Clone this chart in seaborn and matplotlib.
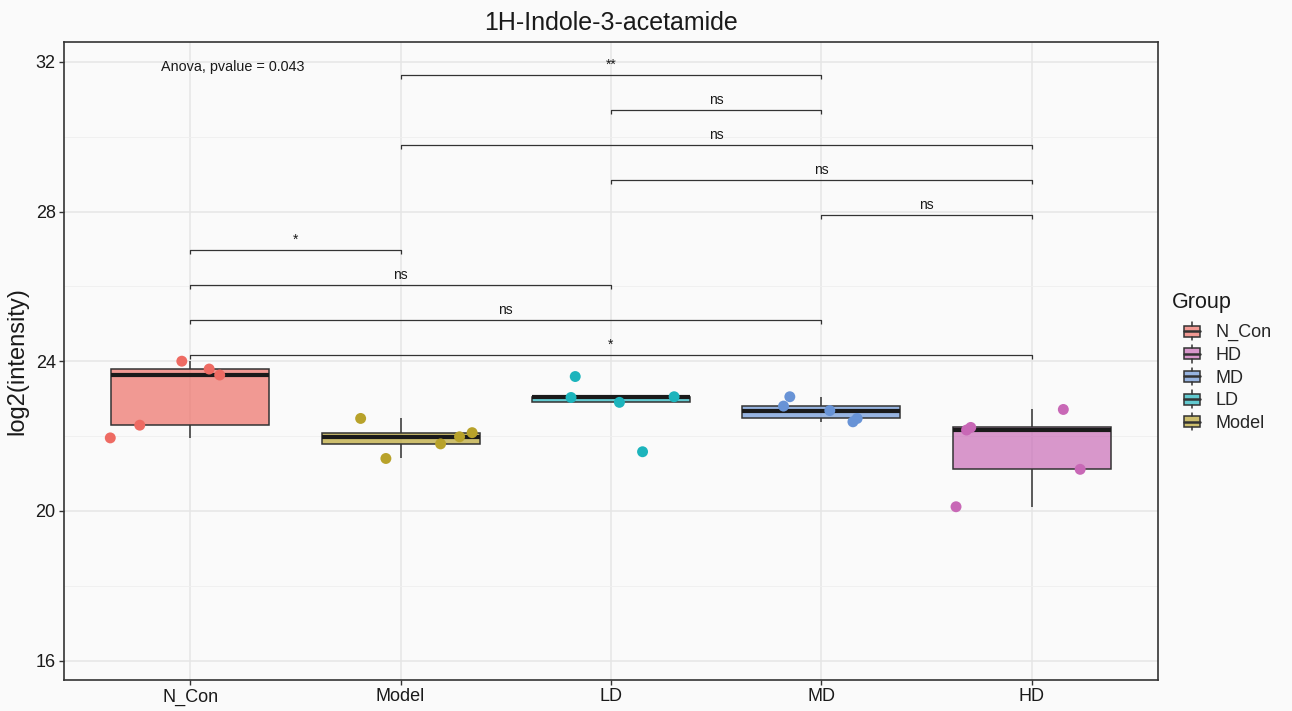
import matplotlib
matplotlib.use("Agg")
import numpy as np
import pandas as pd
import matplotlib.pyplot as plt
from matplotlib.patches import Patch, Rectangle
from matplotlib.lines import Line2D
from matplotlib.legend_handler import HandlerBase
from matplotlib.colors import to_rgba
from matplotlib.ticker import MultipleLocator
import seaborn as sns

# ---- data -------------------------------------------------------------
groups = ["N_Con", "Model", "LD", "MD", "HD"]
legend_order = ["N_Con", "HD", "MD", "LD", "Model"]
palette = {
    "N_Con": "#EE6B63",
    "Model": "#B8A22A",
    "LD": "#1CB4BC",
    "MD": "#6893D6",
    "HD": "#C868B6",
}

n_con = [21.95, 22.29, 24.00, 23.79, 23.63]
model = [22.47, 21.40, 21.79, 21.98, 22.09]
ld = [23.59, 23.03, 22.90, 23.05, 21.58]
md = [23.05, 22.80, 22.68, 22.38, 22.47]
hd = [20.11, 22.16, 22.23, 22.71, 21.11]

# horizontal jitter of each sample point
n_con_jit = [-0.38, -0.24, -0.04, 0.09, 0.14]
model_jit = [-0.19, -0.07, 0.19, 0.28, 0.34]
ld_jit = [-0.17, -0.19, 0.04, 0.30, 0.15]
md_jit = [-0.15, -0.18, 0.04, 0.15, 0.17]
hd_jit = [-0.36, -0.31, -0.29, 0.15, 0.23]

# pairwise comparisons, bottom bracket first
comparisons = [
    ("N_Con", "HD", "*"),
    ("N_Con", "MD", "ns"),
    ("N_Con", "LD", "ns"),
    ("N_Con", "Model", "*"),
    ("MD", "HD", "ns"),
    ("LD", "HD", "ns"),
    ("Model", "HD", "ns"),
    ("LD", "MD", "ns"),
    ("Model", "MD", "**"),
]
anova_label = "Anova, pvalue = 0.043"
title = "1H-Indole-3-acetamide"
ylabel = "log2(intensity)"
yticks = [16, 20, 24, 28, 32]

values = {"N_Con": n_con, "Model": model, "LD": ld, "MD": md, "HD": hd}
jitters = {"N_Con": n_con_jit, "Model": model_jit, "LD": ld_jit,
           "MD": md_jit, "HD": hd_jit}

rows = []
for g in groups:
    for v, j in zip(values[g], jitters[g]):
        pos = groups.index(g)
        rows.append({"Group": g, "pos": pos, "xj": pos + j, "value": v})
df = pd.DataFrame(rows)

# ---- style ------------------------------------------------------------
sns.set_theme(style="white")
plt.rcParams["font.family"] = ["Liberation Sans", "DejaVu Sans"]
bg = "#FAFAFA"
dark = "#333333"
txt = "#1A1A1A"
box_alpha = 0.68

fig = plt.figure(figsize=(12.92, 7.11), dpi=100, facecolor=bg)
ax = fig.add_axes([64 / 1292, 1 - 680 / 711, (1158 - 64) / 1292, (680 - 42) / 711])
ax.set_facecolor(bg)

# ---- boxes ------------------------------------------------------------
sns.boxplot(
    data=df, x="pos", y="value", hue="Group", palette=palette,
    hue_order=groups, native_scale=True, dodge=False, width=0.75,
    saturation=1, showfliers=False, whis=1.5, linewidth=1.1,
    linecolor=dark, legend=False, ax=ax,
    medianprops={"color": txt, "linewidth": 3.0},
    capprops={"visible": False},
    boxprops={"zorder": 2}, whiskerprops={"zorder": 2},
)
for patch in ax.patches:
    fc = patch.get_facecolor()
    patch.set_facecolor((fc[0], fc[1], fc[2], box_alpha))

# ---- jittered points --------------------------------------------------
sns.scatterplot(
    data=df, x="xj", y="value", hue="Group", palette=palette,
    hue_order=groups, s=62, edgecolor="none", linewidth=0,
    legend=False, ax=ax, zorder=4,
)

# ---- significance brackets --------------------------------------------
base, step, tip = 24.17, 0.934, 0.10
for i, (a, b, lab) in enumerate(comparisons):
    x1, x2 = groups.index(a), groups.index(b)
    y = base + i * step
    ax.plot([x1, x1, x2, x2], [y - tip, y, y, y - tip], color=dark,
            lw=0.9, solid_capstyle="butt", zorder=3)
    ax.text((x1 + x2) / 2, y + 0.08, lab, ha="center", va="bottom",
            fontsize=10, color=txt)

ax.text(0.2, 31.87, anova_label, ha="center", va="center", fontsize=10.4,
        color=txt)

# ---- axes -------------------------------------------------------------
ax.set_xlim(-0.6, 4.6)
ax.set_ylim(15.48, 32.53)
ax.set_xticks(range(len(groups)))
ax.set_xticklabels(groups)
ax.set_yticks(yticks)
ax.yaxis.set_minor_locator(MultipleLocator(2))
ax.grid(True, which="major", color="#E6E6E6", lw=1.1, zorder=0)
ax.grid(True, which="minor", axis="y", color="#EFEFEF", lw=0.6, zorder=0)
ax.set_axisbelow(True)
ax.tick_params(axis="both", which="major", length=3.5, width=1.0,
               color=dark, labelsize=13, labelcolor=txt, pad=2.5,
               left=True, bottom=True)
ax.tick_params(axis="y", which="minor", length=0)
for sp in ax.spines.values():
    sp.set_color(dark)
    sp.set_linewidth(1.2)
ax.set_xlabel("")
ax.set_ylabel(ylabel, fontsize=17, color=txt, labelpad=5)
ax.set_title(title, fontsize=18, color=txt, pad=9)


# ---- legend with boxplot keys -----------------------------------------
class BoxKey(HandlerBase):
    def create_artists(self, legend, orig_handle, xdescent, ydescent,
                       width, height, fontsize, trans):
        x0, y0 = -xdescent, -ydescent
        fc = orig_handle.get_facecolor()
        box = Rectangle((x0 + 0.06 * width, y0 + 0.16 * height),
                        0.88 * width, 0.68 * height, facecolor=fc,
                        edgecolor=dark, lw=1.1, transform=trans)
        xm = x0 + width / 2
        top = Line2D([xm, xm], [y0 + 0.84 * height, y0 + 1.04 * height],
                     color=dark, lw=1.1, transform=trans)
        bot = Line2D([xm, xm], [y0 - 0.04 * height, y0 + 0.16 * height],
                     color=dark, lw=1.1, transform=trans)
        med = Line2D([x0 + 0.06 * width, x0 + 0.94 * width],
                     [y0 + 0.5 * height] * 2, color=dark, lw=1.8,
                     transform=trans)
        return [box, top, bot, med]


fig.text(1172 / 1292, 1 - 302 / 711, "Group", ha="left", va="center",
         fontsize=15.5, color=txt)
handles = [Patch(facecolor=to_rgba(palette[g], box_alpha), edgecolor=dark,
                 label=g) for g in legend_order]
leg = fig.legend(
    handles=handles, loc="upper left",
    bbox_to_anchor=(1183 / 1292, 1 - 323 / 711), frameon=False,
    fontsize=13, handler_map={Patch: BoxKey()}, handlelength=1.0,
    handleheight=1.0, handletextpad=0.8, labelspacing=0.24,
    borderpad=0, borderaxespad=0,
)

fig.savefig("out.png", dpi=100, facecolor=bg)
